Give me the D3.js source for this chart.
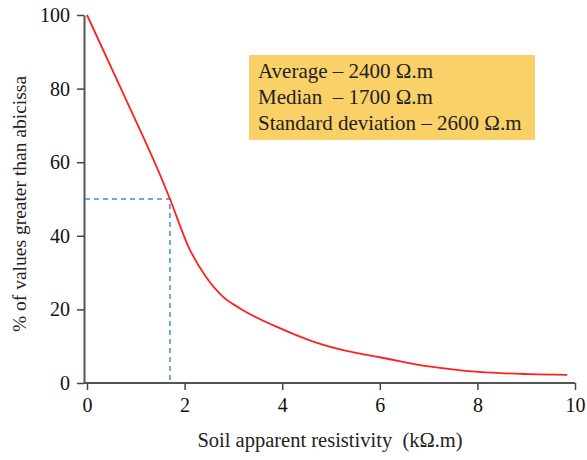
<!DOCTYPE html>
<html>
<head>
<meta charset="utf-8">
<script src="https://cdn.jsdelivr.net/npm/d3@7"></script>
<style>
  body { margin: 0; background: #fff; }
  text { font-family: "Liberation Serif", "Times New Roman", serif; }
</style>
</head>
<body>
<div id="chart"></div>
<script>
// resistivity (kΩ.m) vs % of values greater than abscissa
const resistivity = [0, 0.8, 1.54, 1.7, 2.08, 2.44, 2.79, 3.12, 3.95, 4.65, 5.54, 6.0, 7.0, 8.03, 9.07, 9.84];
const percentGreater = [100, 77, 55.2, 50, 37.0, 28.8, 23.4, 20.4, 14.9, 11.2, 8.1, 7.0, 4.5, 3.0, 2.4, 2.2];
const xTicks = [0, 2, 4, 6, 8, 10];
const yTicks = [0, 20, 40, 60, 80, 100];
const median = 1.7;
const medianPct = 50;
const statLines = ["Average \u2013 2400 \u03A9.m", "Median  \u2013 1700 \u03A9.m", "Standard deviation \u2013 2600 \u03A9.m"];

function drawChart(containerId = "#chart") {
    const width = 587, height = 460;
    const data = resistivity.map((r, i) => ({ r, p: percentGreater[i] }));

    const svg = d3.select(containerId)
        .append("svg")
        .attr("width", width)
        .attr("height", height);

    const x = d3.scaleLinear().domain([0, 10]).range([87, 575]);
    const y = d3.scaleLinear().domain([0, 100]).range([383, 15]);

    // axes
    const xAxis = svg.append("g")
        .attr("transform", "translate(0,383)")
        .call(d3.axisBottom(x).tickValues(xTicks).tickSize(7).tickSizeOuter(0).tickPadding(8));
    xAxis.select(".domain").attr("d", "M84,0H575").attr("stroke", "#555").attr("stroke-width", 2);

    const yAxis = svg.append("g")
        .attr("transform", "translate(84,0)")
        .call(d3.axisLeft(y).tickValues(yTicks).tickSize(7).tickSizeOuter(0).tickPadding(7));
    yAxis.select(".domain").attr("stroke", "#555").attr("stroke-width", 2);

    svg.selectAll(".tick line").attr("stroke", "#444").attr("stroke-width", 1.5);
    svg.selectAll(".tick text")
        .attr("fill", "#111")
        .style("font-size", "20px")
        .style("font-family", "Liberation Serif, serif");

    // median guide
    svg.append("path")
        .attr("d", `M85,${y(medianPct)}H${x(median)}V${y(0)}`)
        .attr("fill", "none")
        .attr("stroke", "#3a8fd6")
        .attr("stroke-width", 1.5)
        .attr("stroke-dasharray", "5,4");

    // curve
    const line = d3.line()
        .x(d => x(d.r))
        .y(d => y(d.p))
        .curve(d3.curveMonotoneX);

    svg.append("path")
        .datum(data)
        .attr("d", line)
        .attr("fill", "none")
        .attr("stroke", "#ff2020")
        .attr("stroke-width", 1.8);

    // stats box
    svg.append("rect")
        .attr("x", 249).attr("y", 55)
        .attr("width", 286).attr("height", 85)
        .attr("fill", "#f9d168");

    svg.selectAll(".stat")
        .data(statLines)
        .enter().append("text")
        .attr("class", "stat")
        .attr("x", 258)
        .attr("y", (d, i) => 78 + i * 26)
        .attr("fill", "#222")
        .style("font-size", "21px")
        .style("white-space", "pre")
        .text(d => d);

    // axis titles
    svg.append("text")
        .attr("x", 330).attr("y", 447)
        .attr("text-anchor", "middle")
        .attr("fill", "#222")
        .style("font-size", "20.5px")
        .style("white-space", "pre")
        .text("Soil apparent resistivity  (k\u03A9.m)");

    svg.append("text")
        .attr("transform", "translate(26,204) rotate(-90)")
        .attr("text-anchor", "middle")
        .attr("fill", "#222")
        .style("font-size", "19.5px")
        .text("% of values greater than abicissa");
}

drawChart();
</script>
</body>
</html>
